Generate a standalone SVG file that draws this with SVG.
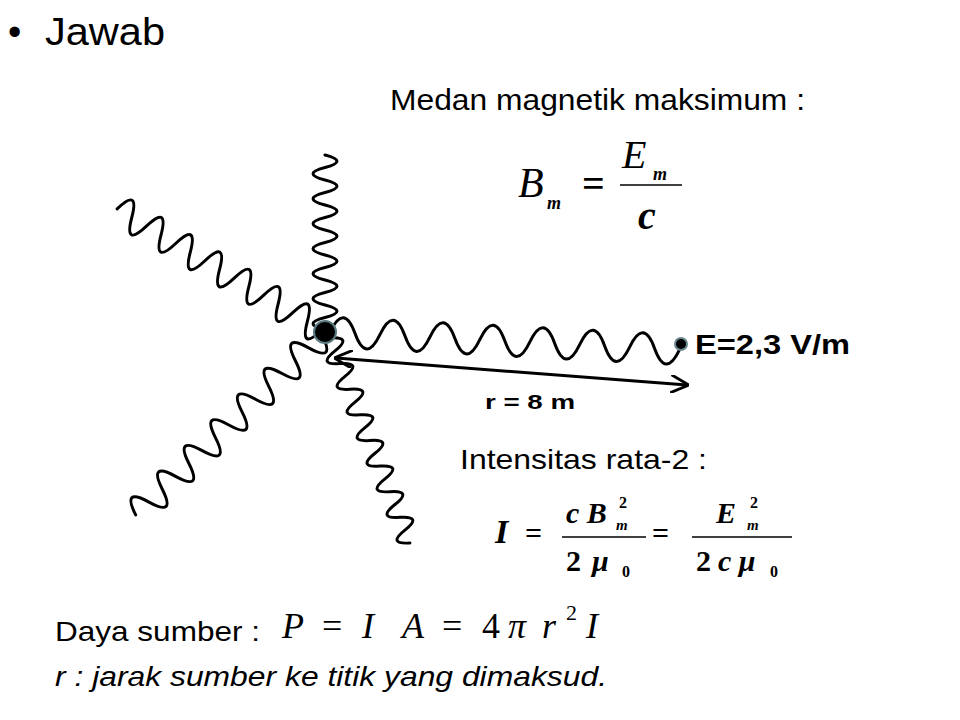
<svg xmlns="http://www.w3.org/2000/svg" width="960" height="720" viewBox="0 0 960 720">
<style>
.s{font-family:"Liberation Sans",Arial,sans-serif;fill:#000}
.m{font-family:"Liberation Serif","Times New Roman",serif;font-style:italic;fill:#000}
.b{font-weight:bold}
.n{font-family:"Liberation Serif","Times New Roman",serif;font-weight:bold;fill:#000}
.w{fill:none;stroke:#000;stroke-width:3;stroke-linecap:round}
</style>
<defs>
<marker id="ah" viewBox="0 0 10 10" refX="9" refY="5" markerWidth="6" markerHeight="6" orient="auto-start-reverse"><path d="M0,0 L10,5 L0,10" fill="none" stroke="#000" stroke-width="1.6"/></marker>
</defs>
<rect width="960" height="720" fill="#fff"/>
<text class="s" x="8" y="45" font-size="38">•</text>
<text class="s" x="45" y="45" font-size="38" textLength="120" lengthAdjust="spacingAndGlyphs">Jawab</text>
<text class="s" x="390" y="110" font-size="29" textLength="415" lengthAdjust="spacingAndGlyphs">Medan magnetik maksimum :</text>
<g id="eqB">
<text class="m" x="518" y="197" font-size="42">B</text>
<text class="m b" x="547" y="209" font-size="18">m</text>
<text class="n" x="582" y="197" font-size="40">=</text>
<text class="m" x="622" y="168" font-size="40">E</text>
<text class="m b" x="653" y="180" font-size="18">m</text>
<line x1="620" y1="185" x2="682" y2="185" stroke="#000" stroke-width="1.5"/>
<text class="m b" x="638" y="229" font-size="40">c</text>
</g>
<g id="connectors">
<path class="w" transform="translate(325,330) rotate(-90)" d="M0,0 q6.25,-24 12.5,0 t12.5,0 t12.5,0 t12.5,0 t12.5,0 t12.5,0 t12.5,0 t12.5,0 t12.5,0 t12.5,0 t12.5,0 t12.5,0 t12.5,0 t12.5,0"/>
<path class="w" transform="translate(322,330) rotate(210.6)" d="M0,0 q8.5,-30 17,0 t17,0 t17,0 t17,0 t17,0 t17,0 t17,0 t17,0 t17,0 t17,0 t17,0 t17,0 t17,0 t17,0"/>
<path class="w" transform="translate(330,332) rotate(2.9)" d="M0,0 q12.5,-30 25,0 t25,0 t25,0 t25,0 t25,0 t25,0 t25,0 t25,0 t25,0 t25,0 t25,0 t25,0 t25,0 t25,0"/>
<path class="w" transform="translate(322,335) rotate(136)" d="M0,0 q9.25,-30 18.5,0 t18.5,0 t18.5,0 t18.5,0 t18.5,0 t18.5,0 t18.5,0 t18.5,0 t18.5,0 t18.5,0 t18.5,0 t18.5,0 t18.5,0 t18.5,0"/>
<path class="w" transform="translate(330,338) rotate(68.7)" d="M0,0 q6.9,-22 13.75,0 t13.75,0 t13.75,0 t13.75,0 t13.75,0 t13.75,0 t13.75,0 t13.75,0 t13.75,0 t13.75,0 t13.75,0 t13.75,0 t13.75,0 t13.75,0 t13.75,0 t13.75,0"/>
<line x1="336" y1="358" x2="687" y2="385" stroke="#000" stroke-width="3" marker-start="url(#ah)" marker-end="url(#ah)"/>
</g>
<g id="source"><circle cx="325" cy="332" r="11" fill="#000" stroke="#5a7a80" stroke-width="2"/></g>
<g id="point"><circle cx="681" cy="344" r="6" fill="#000" stroke="#6a8a90" stroke-width="2"/>
<text class="s b" x="695" y="354" font-size="27" textLength="155" lengthAdjust="spacingAndGlyphs">E=2,3 V/m</text></g>
<text class="s b" x="485" y="409" font-size="21" textLength="90" lengthAdjust="spacingAndGlyphs">r = 8 m</text>
<text class="s" x="460" y="469" font-size="28" textLength="247" lengthAdjust="spacingAndGlyphs">Intensitas rata-2 :</text>
<g id="eqI">
<text class="m b" x="495" y="543" font-size="34">I</text>
<text class="n" x="525" y="543" font-size="30">=</text>
<text class="m b" x="566" y="523" font-size="30">c B</text>
<text class="n" x="619" y="508" font-size="16">2</text>
<text class="m b" x="616" y="530" font-size="15">m</text>
<line x1="562" y1="537" x2="646" y2="537" stroke="#000" stroke-width="1.5"/>
<text class="n" x="566" y="571" font-size="30">2</text>
<text class="m b" x="592" y="571" font-size="30">μ</text>
<text class="n" x="622" y="577" font-size="16">0</text>
<text class="n" x="652" y="543" font-size="30">=</text>
<text class="m b" x="716" y="523" font-size="30">E</text>
<text class="n" x="750" y="508" font-size="16">2</text>
<text class="m b" x="747" y="530" font-size="15">m</text>
<line x1="692" y1="537" x2="792" y2="537" stroke="#000" stroke-width="1.5"/>
<text class="n" x="696" y="571" font-size="30">2</text>
<text class="m b" x="718" y="571" font-size="30">c μ</text>
<text class="n" x="770" y="577" font-size="16">0</text>
</g>
<text class="s" x="55" y="641" font-size="28" textLength="205" lengthAdjust="spacingAndGlyphs">Daya sumber :</text>
<g id="eqP" font-family="Liberation Serif,serif" font-style="italic" font-size="36">
<text x="282" y="638">P</text>
<text x="322" y="638" font-style="normal">=</text>
<text x="362" y="638">I</text>
<text x="402" y="638">A</text>
<text x="442" y="638" font-style="normal">=</text>
<text x="482" y="638" font-style="normal">4</text>
<text x="508" y="638">π</text>
<text x="542" y="638">r</text>
<text x="566" y="620" font-size="22" font-style="normal">2</text>
<text x="586" y="638">I</text>
</g>
<text class="s" x="55" y="686" font-size="28" font-style="italic" textLength="552" lengthAdjust="spacingAndGlyphs">r : jarak sumber ke titik yang dimaksud.</text>
</svg>
